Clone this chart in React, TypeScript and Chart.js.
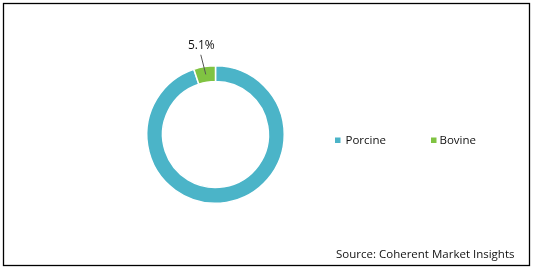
import React, { useEffect, useRef } from "react";
import { Chart, registerables } from "chart.js";

Chart.register(...registerables);

const categories = ["Porcine", "Bovine"];
const shares = [94.9, 5.1];
const valueLabels = ["", "5.1%"];
const colors = ["#4BB4C8", "#80C342"];
const sourceText = "Source: Coherent Market Insights";

const FONT = '"Open Sans", sans-serif';

const decorPlugin = {
  id: "decor",
  afterDraw(chart: any) {
    const ctx = chart.ctx as CanvasRenderingContext2D;
    ctx.save();
    // outer frame
    ctx.strokeStyle = "#000";
    ctx.lineWidth = 1.3;
    ctx.strokeRect(3.5, 3.5, 526, 262);

    // value labels with leader lines
    const meta = chart.getDatasetMeta(0);
    meta.data.forEach((arc: any, i: number) => {
      const lbl = valueLabels[i];
      if (!lbl) return;
      const mid = (arc.startAngle + arc.endAngle) / 2;
      const rMid = (arc.innerRadius + arc.outerRadius) / 2;
      const sx = arc.x + Math.cos(mid) * rMid;
      const sy = arc.y + Math.sin(mid) * rMid;
      const ex = sx - 5;
      const ey = arc.y - arc.outerRadius - 11;
      ctx.strokeStyle = "#555";
      ctx.lineWidth = 1;
      ctx.beginPath();
      ctx.moveTo(sx, sy);
      ctx.lineTo(ex, ey);
      ctx.stroke();
      ctx.fillStyle = "#111";
      ctx.font = `12px ${FONT}`;
      ctx.textAlign = "center";
      ctx.textBaseline = "middle";
      ctx.fillText(lbl, ex + 0.5, ey - 9);
    });

    // legend
    const legendX = [335, 431];
    const legendY = 140.5;
    ctx.font = `11.5px ${FONT}`;
    ctx.textAlign = "left";
    ctx.textBaseline = "middle";
    categories.forEach((c, i) => {
      ctx.fillStyle = colors[i];
      ctx.fillRect(legendX[i], legendY - 3, 5.5, 5.5);
      ctx.fillStyle = "#111";
      ctx.fillText(c, legendX[i] + 10.5 - i * 2, legendY);
    });

    // source
    ctx.textAlign = "right";
    ctx.fillStyle = "#111";
    ctx.font = `11.5px ${FONT}`;
    ctx.fillText(sourceText, 514.5, 255);
    ctx.restore();
  },
};

export default function App() {
  const ref = useRef<HTMLCanvasElement | null>(null);
  useEffect(() => {
    if (!ref.current) return;
    const chart = new Chart(ref.current, {
      type: "doughnut",
      data: {
        labels: categories,
        datasets: [
          {
            data: shares,
            backgroundColor: colors,
            borderColor: "#ffffff",
            borderWidth: 1.5,
          },
        ],
      },
      options: {
        responsive: false,
        animation: false,
        cutout: "77%",
        layout: { padding: { left: 146, right: 249, top: 65, bottom: 65 } },
        plugins: {
          legend: { display: false },
          tooltip: { enabled: false },
        },
      },
      plugins: [decorPlugin],
    });
    return () => chart.destroy();
  }, []);
  return (
    <div style={{ position: "absolute", left: 0, top: 0, width: 534, height: 269, background: "#fff" }}>
      <canvas ref={ref} width={534} height={269} style={{ display: "block" }} />
    </div>
  );
}
